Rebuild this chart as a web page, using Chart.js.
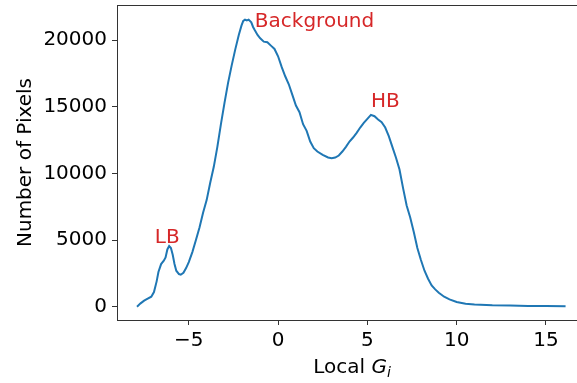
<!DOCTYPE html>
<html>
<head>
<meta charset="utf-8">
<script src="https://cdn.jsdelivr.net/npm/chart.js@4.4.1/dist/chart.umd.min.js"></script>
<style>
html, body { margin: 0; padding: 0; background: #fff; }
#wrap { width: 577px; height: 383px; }
</style>
</head>
<body>
<div id="wrap"><canvas id="c" width="577" height="383"></canvas></div>
<script>
// values
const gi = [-7.9, -7.7, -7.5, -7.3, -7.1, -6.95, -6.8, -6.7, -6.55, -6.4, -6.3, -6.2, -6.1, -6.0, -5.9, -5.8, -5.7, -5.55, -5.45, -5.3, -5.15, -5.0, -4.8, -4.6, -4.4, -4.2, -4.0, -3.8, -3.6, -3.4, -3.2, -3.0, -2.8, -2.6, -2.4, -2.2, -2.05, -1.95, -1.85, -1.75, -1.65, -1.5, -1.4, -1.3, -1.15, -1.0, -0.8, -0.6, -0.4, -0.2, 0.0, 0.2, 0.4, 0.6, 0.8, 1.0, 1.2, 1.4, 1.6, 1.8, 2.0, 2.2, 2.5, 2.8, 3.0, 3.2, 3.4, 3.6, 3.8, 4.0, 4.2, 4.4, 4.6, 4.8, 5.0, 5.2, 5.4, 5.6, 5.8, 6.0, 6.2, 6.4, 6.6, 6.8, 7.0, 7.2, 7.4, 7.6, 7.8, 8.0, 8.2, 8.4, 8.6, 8.8, 9.0, 9.3, 9.6, 10.0, 10.5, 11.0, 12.0, 13.0, 14.0, 15.0, 16.1];
const pixels = [0, 250, 450, 600, 750, 1100, 1900, 2600, 3200, 3450, 3700, 4300, 4550, 4400, 3900, 3200, 2700, 2450, 2400, 2550, 2900, 3350, 4100, 5000, 5950, 7050, 8000, 9300, 10500, 12000, 13700, 15300, 16800, 18100, 19300, 20400, 21100, 21450, 21550, 21500, 21550, 21350, 21000, 20750, 20400, 20150, 19900, 19850, 19600, 19350, 18800, 18000, 17300, 16700, 15900, 15100, 14600, 13700, 13200, 12400, 11900, 11650, 11400, 11200, 11150, 11200, 11350, 11650, 12000, 12400, 12700, 13050, 13450, 13800, 14100, 14400, 14300, 14050, 13850, 13450, 12800, 12000, 11200, 10300, 8900, 7600, 6700, 5600, 4400, 3500, 2700, 2100, 1600, 1300, 1050, 750, 550, 350, 220, 160, 100, 80, 60, 50, 30];
const xTicks = [-5, 0, 5, 10, 15];
const yTicks = [0, 5000, 10000, 15000, 20000];
const noteText = ['Background', 'HB', 'LB'];
const noteX = [-1.3, 5.2, -6.9];
const noteY = [21000, 15000, 4800];

const FONT = 'DejaVu Sans';
const points = gi.map((x, i) => ({ x: x, y: pixels[i] }));

const frame = {
  id: 'frame',
  afterDraw(chart) {
    const ctx = chart.ctx, a = chart.chartArea;
    const xs = chart.scales.x, ys = chart.scales.y;
    ctx.save();
    // top spine
    ctx.strokeStyle = '#333';
    ctx.lineWidth = 1;
    ctx.beginPath();
    ctx.moveTo(a.left, a.top + 0.5);
    ctx.lineTo(a.right, a.top + 0.5);
    ctx.stroke();
    // annotations
    ctx.fillStyle = '#d62728';
    ctx.font = '20px "' + FONT + '"';
    ctx.textAlign = 'left';
    ctx.textBaseline = 'alphabetic';
    noteText.forEach((t, i) => {
      ctx.fillText(t, xs.getPixelForValue(noteX[i]), ys.getPixelForValue(noteY[i]));
    });
    // x label: "Local G_i"
    ctx.fillStyle = '#000';
    const p1 = 'Local ';
    ctx.font = '20px "' + FONT + '"';
    const w1 = ctx.measureText(p1).width;
    ctx.font = 'italic 20px "' + FONT + '"';
    const w2 = ctx.measureText('G').width;
    ctx.font = 'italic 14px "' + FONT + '"';
    const w3 = ctx.measureText('i').width;
    let x0 = 352 - (w1 + w2 + w3) / 2;
    const base = 373;
    ctx.font = '20px "' + FONT + '"';
    ctx.fillText(p1, x0, base);
    ctx.font = 'italic 20px "' + FONT + '"';
    ctx.fillText('G', x0 + w1, base);
    ctx.font = 'italic 14px "' + FONT + '"';
    ctx.fillText('i', x0 + w1 + w2, base + 4);
    ctx.restore();
  }
};

new Chart(document.getElementById('c'), {
  type: 'line',
  data: {
    datasets: [{
      data: points,
      borderColor: '#1f77b4',
      borderWidth: 2,
      pointRadius: 0,
      tension: 0,
      fill: false
    }]
  },
  options: {
    responsive: false,
    animation: false,
    layout: { padding: { top: 5, right: 0, left: 0, bottom: 0 } },
    plugins: { legend: { display: false }, tooltip: { enabled: false } },
    scales: {
      x: {
        type: 'linear',
        min: -9.02,
        max: 16.74,
        afterBuildTicks: s => { s.ticks = xTicks.map(v => ({ value: v })); },
        afterFit: s => { s.height = 63; s.paddingLeft = 0; s.paddingRight = 0; },
        grid: { drawOnChartArea: false, drawTicks: true, tickLength: 5, color: '#333' },
        border: { display: true, color: '#333', width: 1 },
        ticks: {
          color: '#000', padding: 4,
          font: { family: FONT, size: 20 },
          maxRotation: 0,
          callback: v => String(v).replace('-', '\u2212')
        }
      },
      y: {
        min: -1000,
        max: 22650,
        afterBuildTicks: s => { s.ticks = yTicks.map(v => ({ value: v })); },
        afterFit: s => { s.width = 117; s.paddingTop = 0; s.paddingBottom = 0; },
        grid: { drawOnChartArea: false, drawTicks: true, tickLength: 5, color: '#333' },
        border: { display: true, color: '#333', width: 1 },
        ticks: {
          color: '#000', padding: 5,
          font: { family: FONT, size: 20 },
          callback: v => String(v)
        },
        title: {
          display: true,
          text: 'Number of Pixels',
          color: '#000',
          font: { family: FONT, size: 20 },
          padding: { top: 14, bottom: 0 }
        }
      }
    }
  },
  plugins: [frame]
});
</script>
</body>
</html>
